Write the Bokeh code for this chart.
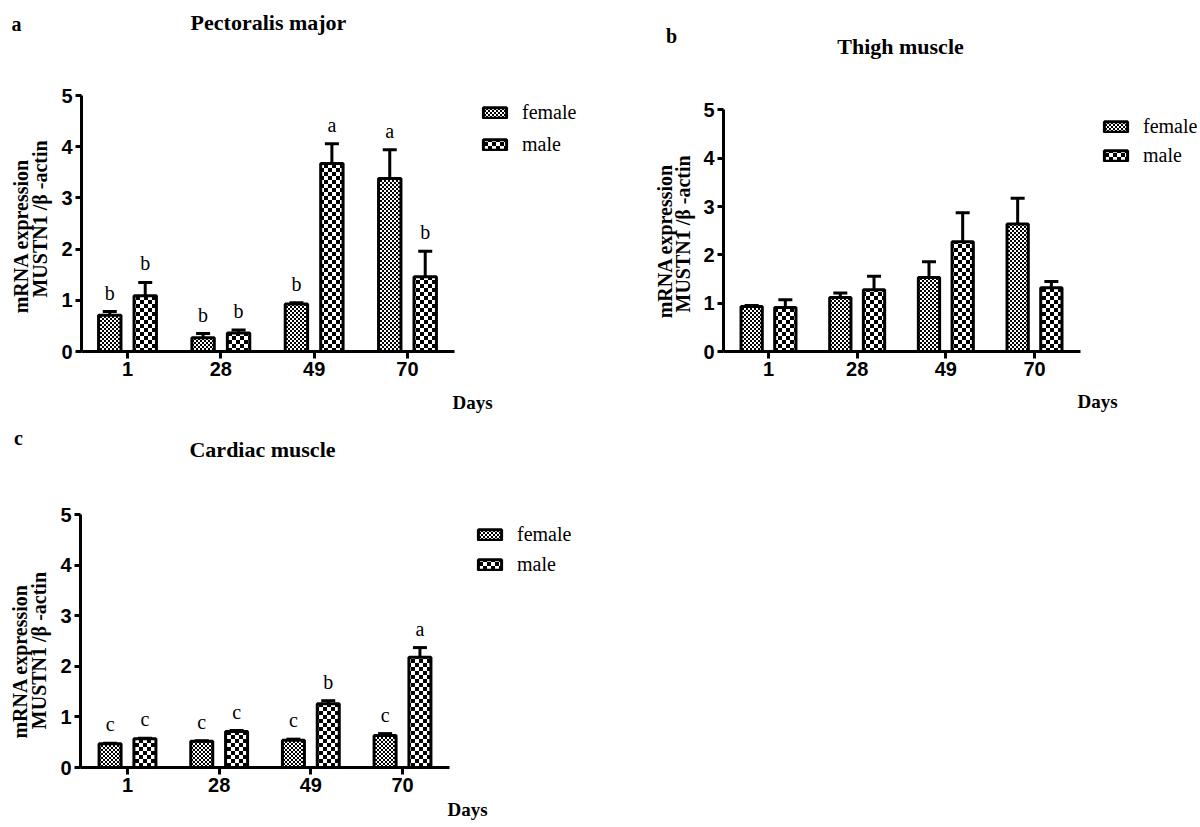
import zlib, struct, base64
import numpy as np
from bokeh.plotting import figure
from bokeh.models import (Range1d, FixedTicker, Label, Legend, LegendItem, LinearAxis,
                          Whisker, TeeHead, ColumnDataSource, ImageURLTexture)
from bokeh.layouts import column, row
from bokeh.embed import file_html
from bokeh.resources import INLINE
from bokeh.core.properties import value

# ---------------- data ----------------
days = ["1", "28", "49", "70"]
groups = ["female", "male"]

pm_female = [0.71, 0.27, 0.93, 3.38]
pm_female_err = [0.07, 0.08, 0.02, 0.56]
pm_male = [1.09, 0.36, 3.67, 1.46]
pm_male_err = [0.26, 0.06, 0.39, 0.50]
pm_female_sig = ["b", "b", "b", "a"]
pm_male_sig = ["b", "b", "a", "b"]

th_female = [0.93, 1.12, 1.53, 2.64]
th_female_err = [0.02, 0.09, 0.33, 0.53]
th_male = [0.91, 1.28, 2.27, 1.32]
th_male_err = [0.16, 0.28, 0.60, 0.13]

cm_female = [0.47, 0.52, 0.54, 0.63]
cm_female_err = [0.01, 0.01, 0.02, 0.04]
cm_male = [0.57, 0.71, 1.26, 2.18]
cm_male_err = [0.01, 0.02, 0.06, 0.19]
cm_female_sig = ["c", "c", "c", "c"]
cm_male_sig = ["c", "c", "b", "a"]

titles = ["Pectoralis major", "Thigh muscle", "Cardiac muscle"]
letters = ["a", "b", "c"]
ylabel_lines = ["mRNA expression", "MUSTN1 /\u03b2 -actin"]
xlabel = "Days"

SERIF = "Liberation Serif"
SANS = "Liberation Sans"


def png_checker(n, sq):
    raw = b""
    for yy in range(n):
        r = bytearray([0])
        for xx in range(n):
            r.append(0 if ((xx // sq + yy // sq) % 2 == 0) else 255)
        raw += bytes(r)

    def chunk(t, d):
        return struct.pack(">I", len(d)) + t + d + struct.pack(">I", zlib.crc32(t + d) & 0xffffffff)
    ihdr = struct.pack(">IIBBBBB", n, n, 8, 0, 0, 0, 0)
    data = (b"\x89PNG\r\n\x1a\n" + chunk(b"IHDR", ihdr) +
            chunk(b"IDAT", zlib.compress(raw)) + chunk(b"IEND", b""))
    return "data:image/png;base64," + base64.b64encode(data).decode()


FINE = png_checker(4, 2)
COARSE = png_checker(8, 4)


def make_helper(h, letter):
    """Narrow figure left of a panel holding the panel letter and the y label."""
    w = h["w"]
    H = h["h"]
    p = figure(width=w, height=H, output_backend="svg", toolbar_location=None,
               x_range=Range1d(0, w), y_range=Range1d(0, H),
               x_axis_location=None, y_axis_location=None,
               min_border_left=0, min_border_right=0,
               min_border_top=0, min_border_bottom=0)
    p.outline_line_color = None
    p.grid.visible = False

    def P(px, py):
        return px - h["x"], (h["y"] + H) - py

    lx, ly = P(*h["letter"])
    p.text(x=[lx], y=[ly], text=[letter], text_align="center",
           text_baseline="alphabetic", text_font=value(SERIF),
           text_font_size="20px", text_font_style="bold", text_color="black")
    # y label lines, rotated; anchored at their lower (starting) end
    for (px, py), txt in zip((h["yl1"], h["yl2"]), ylabel_lines):
        x, y = P(px, py)
        p.text(x=[x], y=[y], text=[txt], angle=np.pi / 2, text_align="left",
               text_baseline="middle", text_font=value(SERIF),
               text_font_size="20px", text_font_style="bold", text_color="black")
    return p


def make_panel(g, female, female_err, male, male_err, female_sig, male_sig,
               title, t):
    left = g["axis_x"] - g["fig_x"]
    bottom = g["fig_y"] + g["fig_h"] - g["axis_y0"]
    fw = g["fig_w"] - left
    fh = g["fig_h"] - bottom
    x0 = (g["axis_x"] - g["tick0"]) / g["ppx"]
    p = figure(width=g["fig_w"], height=g["fig_h"], output_backend="svg",
               toolbar_location=None,
               x_range=Range1d(x0, x0 + fw / g["ppx"]),
               y_range=Range1d(0, fh / g["ppy"]),
               min_border_left=left, min_border_right=0,
               min_border_top=0, min_border_bottom=bottom)
    p.outline_line_color = None
    p.xgrid.visible = False
    p.ygrid.visible = False
    p.background_fill_color = "white"
    p.border_fill_color = "white"

    def D(px, py):
        return (px - g["tick0"]) / g["ppx"], (g["axis_y0"] - py) / g["ppy"]

    xs = np.arange(len(days))
    f = np.array(female)
    m = np.array(male)
    src = ColumnDataSource(dict(
        xf=xs - 0.19, xm=xs + 0.19,
        f=f, fu=f + np.array(female_err),
        m=m, mu=m + np.array(male_err),
        fs=female_sig if female_sig else [""] * len(days),
        ms=male_sig if male_sig else [""] * len(days),
    ))

    rf = p.vbar(x="xf", top="f", bottom=0, width=0.24, source=src,
                fill_color="white", line_color="black", line_width=3,
                hatch_pattern=value("fine"),
                hatch_extra={"fine": ImageURLTexture(url=FINE)},
                hatch_color="black")
    rm = p.vbar(x="xm", top="m", bottom=0, width=0.24, source=src,
                fill_color="white", line_color="black", line_width=3,
                hatch_pattern=value("coarse"),
                hatch_extra={"coarse": ImageURLTexture(url=COARSE)},
                hatch_color="black")

    for base, lo, up in (("xf", "f", "fu"), ("xm", "m", "mu")):
        w = Whisker(source=src, base=base, lower=lo, upper=up,
                    dimension="height", line_color="black", line_width=3,
                    upper_head=TeeHead(size=14, line_width=3, line_color="black"),
                    lower_head=None, level="annotation")
        p.add_layout(w)

    if female_sig:
        for xcol, ycol, scol in (("xf", "fu", "fs"), ("xm", "mu", "ms")):
            p.text(x=xcol, y=ycol, text=scol, source=src, y_offset=-19,
                   text_align="center", text_baseline="alphabetic",
                   text_font=value(SERIF), text_font_size="20px",
                   text_color="black")

    # axes
    p.xaxis.ticker = FixedTicker(ticks=list(range(len(days))))
    p.xaxis.major_label_overrides = {i: d for i, d in enumerate(days)}
    p.xaxis.bounds = (x0, (g["axis_end"] - g["tick0"]) / g["ppx"])
    p.xaxis.major_tick_out = 7
    p.xaxis.major_label_standoff = 3
    p.yaxis.ticker = FixedTicker(ticks=[0, 1, 2, 3, 4, 5])
    p.yaxis.bounds = (0, 5)
    p.yaxis.major_tick_out = 6
    p.yaxis.major_label_standoff = 3
    for ax in (p.xaxis[0], p.yaxis[0]):
        ax.axis_line_width = 3
        ax.axis_line_color = "black"
        ax.major_tick_line_width = 3
        ax.major_tick_line_color = "black"
        ax.major_tick_in = 0
        ax.minor_tick_in = 0
        ax.minor_tick_out = 0
        ax.major_label_text_font = SANS
        ax.major_label_text_font_style = "bold"
        ax.major_label_text_font_size = "20px"
        ax.major_label_text_color = "black"

    # "Days": single tick label of an extra, line-less bottom axis
    dx = round(D(t["days"][0], 0)[0], 4)
    da = LinearAxis(ticker=FixedTicker(ticks=[dx]),
                    major_label_overrides={dx: xlabel},
                    axis_line_color=None, major_tick_line_color=None,
                    minor_tick_line_color=None, major_tick_out=0, major_tick_in=0,
                    minor_tick_out=0, minor_tick_in=0,
                    major_label_standoff=t["days"][1],
                    major_label_text_font=SERIF, major_label_text_font_style="bold",
                    major_label_text_font_size="19px", major_label_text_color="black")
    p.add_layout(da, "below")

    # title (inside the frame area)
    tx, ty = D(t["title"][0], t["title"][1])
    p.add_layout(Label(x=tx, y=ty, text=title, text_font=SERIF,
                       text_font_size="22px", text_font_style="bold",
                       text_align="center", text_baseline="alphabetic",
                       text_color="black"))

    # legend
    gl, fc, dc = t["legend"]
    ih = 24
    sp = dc - ih
    top = fc - ih / 2
    bot = top + 2 * ih + sp
    legend = Legend(items=[LegendItem(label=groups[0], renderers=[rf]),
                           LegendItem(label=groups[1], renderers=[rm])],
                    location=(gl - g["axis_x"], g["axis_y0"] - bot),
                    orientation="vertical", glyph_width=29, glyph_height=13,
                    label_standoff=13, label_height=ih, label_width=20,
                    spacing=sp, padding=0, margin=0,
                    border_line_color=None, background_fill_alpha=0,
                    label_text_font=SERIF, label_text_font_size="20px",
                    label_text_color="black")
    p.add_layout(legend)
    return p


# geometry in page pixels (page origin at top-left)
ha = dict(x=0, y=0, w=56, h=423, letter=(16, 28), yl1=(20, 377), yl2=(39, 358))
ga = dict(fig_x=56, fig_y=0, fig_w=584, fig_h=423, axis_x=81, axis_y0=351,
          tick0=127, ppx=93.33, ppy=51.2, axis_end=454)
hb = dict(x=640, y=0, w=58, h=423, letter=(671, 43), yl1=(664, 383), yl2=(682, 376))
gb = dict(fig_x=698, fig_y=0, fig_w=502, fig_h=423, axis_x=723, axis_y0=356,
          tick0=768, ppx=88.67, ppy=49.0, axis_end=1080)
hc = dict(x=0, y=423, w=55, h=404, letter=(18, 440), yl1=(19, 793), yl2=(38, 782))
gc = dict(fig_x=55, fig_y=423, fig_w=585, fig_h=404, axis_x=80, axis_y0=767,
          tick0=127, ppx=91.67, ppy=50.6, axis_end=449)

ta = dict(title=(268, 22), days=(472, 13), legend=(480, 112, 32))
tb = dict(title=(900, 47), days=(1097, 12), legend=(1101, 131, 29))
tc = dict(title=(262, 449), days=(467, 4), legend=(475, 534, 30))

pa = make_panel(ga, pm_female, pm_female_err, pm_male, pm_male_err,
                pm_female_sig, pm_male_sig, titles[0], ta)
pb = make_panel(gb, th_female, th_female_err, th_male, th_male_err,
                None, None, titles[1], tb)
pc = make_panel(gc, cm_female, cm_female_err, cm_male, cm_male_err,
                cm_female_sig, cm_male_sig, titles[2], tc)

layout = column(row(make_helper(ha, letters[0]), pa, make_helper(hb, letters[1]), pb),
                row(make_helper(hc, letters[2]), pc))
open("out.html", "w").write(file_html(layout, INLINE))
